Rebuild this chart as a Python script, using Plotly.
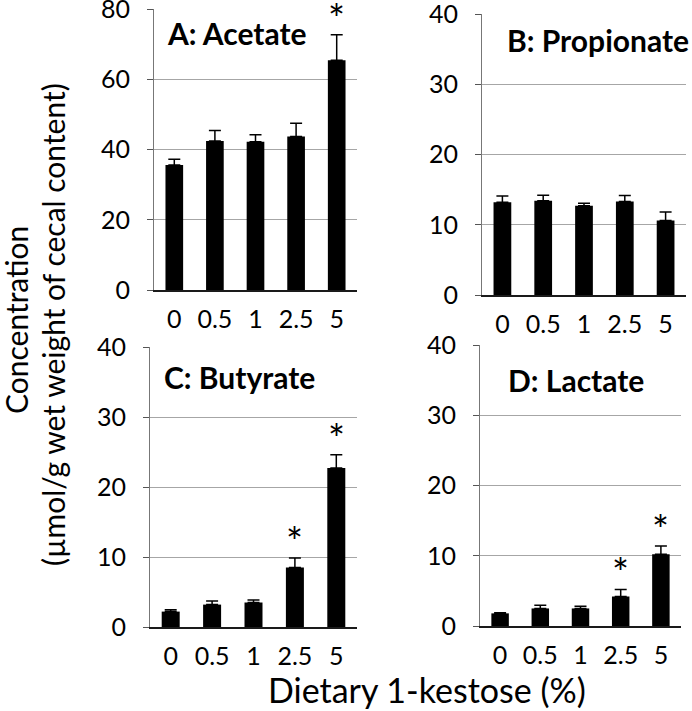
import plotly.graph_objects as go
from plotly.subplots import make_subplots

# Dietary 1-kestose dose (%)
doses = ['0', '0.5', '1', '2.5', '5']

# cecal organic acids, umol/g wet weight (mean and SE)
acetate = [35.6, 42.4, 42.2, 43.7, 65.4]
acetate_se = [1.6, 3.0, 2.0, 3.8, 7.3]
propionate = [13.2, 13.4, 12.7, 13.3, 10.6]
propionate_se = [0.9, 0.8, 0.35, 0.85, 1.2]
butyrate = [2.2, 3.2, 3.5, 8.5, 22.7]
butyrate_se = [0.25, 0.5, 0.35, 1.35, 1.9]
lactate = [1.8, 2.5, 2.5, 4.2, 10.2]
lactate_se = [0.1, 0.45, 0.3, 1.0, 1.2]

# significant doses (asterisks) per panel
acetate_sig = ['5']
propionate_sig = []
butyrate_sig = ['2.5', '5']
lactate_sig = ['2.5', '5']

W, H = 692, 711
FONT = 'Lato'

def px_x(a, b):
    return [a / W, b / W]

def px_y(top, bottom):
    return [1 - bottom / H, 1 - top / H]

def pt(x, y):
    return x / W, 1 - y / H

panels = [
    dict(name='A: Acetate', y=acetate, se=acetate_se, sig=acetate_sig, ymax=80, dtick=20,
         row=1, col=1, xd=px_x(154, 357), yd=px_y(9, 290), tx=165, ty=33),
    dict(name='B: Propionate', y=propionate, se=propionate_se, sig=propionate_sig, ymax=40, dtick=10,
         row=1, col=2, xd=px_x(482, 686), yd=px_y(14, 295), tx=505, ty=40),
    dict(name='C: Butyrate', y=butyrate, se=butyrate_se, sig=butyrate_sig, ymax=40, dtick=10,
         row=2, col=1, xd=px_x(150, 357), yd=px_y(347, 627), tx=162, ty=377),
    dict(name='D: Lactate', y=lactate, se=lactate_se, sig=lactate_sig, ymax=40, dtick=10,
         row=2, col=2, xd=px_x(480, 681), yd=px_y(345, 626), tx=506, ty=380),
]

fig = make_subplots(rows=2, cols=2)

annotations = []
for i, p in enumerate(panels):
    fig.add_trace(go.Bar(
        x=doses, y=p['y'],
        marker=dict(color='black', line=dict(width=0)),
        error_y=dict(type='data', symmetric=False, array=p['se'],
                     arrayminus=[0] * len(p['se']),
                     color='black', thickness=1.5, width=6),
        showlegend=False,
    ), row=p['row'], col=p['col'])

    n = '' if i == 0 else str(i + 1)
    fig.update_layout({
        'xaxis' + n: dict(domain=p['xd'], type='category', showline=True,
                          linecolor='#1a1a1a', linewidth=1.5, ticks='',
                          tickfont=dict(family=FONT, size=25, color='black'),
                          ticklabelstandoff=6, showgrid=False, automargin=False),
        'yaxis' + n: dict(domain=p['yd'], range=[0, p['ymax']], dtick=p['dtick'],
                          showline=True, linecolor='#777777', linewidth=1.2,
                          ticks='outside', ticklen=6, tickcolor='#555555',
                          tickfont=dict(family=FONT, size=25, color='black'),
                          ticklabelstandoff=12, automargin=False,
                          ticklabeloverflow='allow',
                          showgrid=True, gridcolor='#a6a6a6', gridwidth=1,
                          zeroline=False),
    })

    xref = 'x' + n
    yref = 'y' + n
    tx, ty = pt(p['tx'], p['ty'])
    annotations.append(dict(
        text='<b>' + p['name'] + '</b>', xref='paper', yref='paper',
        x=tx, y=ty, xanchor='left', yanchor='middle',
        showarrow=False, font=dict(family=FONT, size=30, color='black')))
    for d in p['sig']:
        k = doses.index(d)
        annotations.append(dict(
            text='*', xref=xref, yref=yref, x=k, y=p['y'][k] + p['se'][k],
            xanchor='center', yanchor='bottom', yshift=-10,
            showarrow=False, font=dict(family=FONT, size=40, color='black')))

# shared axis titles
x1, y1 = pt(16, 320)
x2, y2 = pt(53, 325)
x3, y3 = pt(427, 689)
annotations.append(dict(
    text='Concentration', xref='paper', yref='paper', x=x1, y=y1,
    textangle=-90, xanchor='center', yanchor='middle', showarrow=False,
    font=dict(family=FONT, size=30, color='black')))
annotations.append(dict(
    text='(µmol/g wet weight of cecal content)', xref='paper', yref='paper',
    x=x2, y=y2, textangle=-90, xanchor='center', yanchor='middle',
    showarrow=False, font=dict(family=FONT, size=30, color='black')))
annotations.append(dict(
    text='Dietary 1-kestose (%)', xref='paper', yref='paper', x=x3, y=y3,
    xanchor='center', yanchor='middle', showarrow=False,
    font=dict(family=FONT, size=34, color='black')))

fig.update_layout(
    width=W, height=H,
    margin=dict(l=0, r=0, t=0, b=0),
    paper_bgcolor='white', plot_bgcolor='white',
    bargap=0.565,
    annotations=annotations,
    font=dict(family=FONT, color='black'),
)
fig.update_traces(cliponaxis=False)

# drop the default 8px body margin so the figure fills the window
fig.write_html("out.html", config={'displayModeBar': False},
               post_script="document.body.style.margin='0px';")
